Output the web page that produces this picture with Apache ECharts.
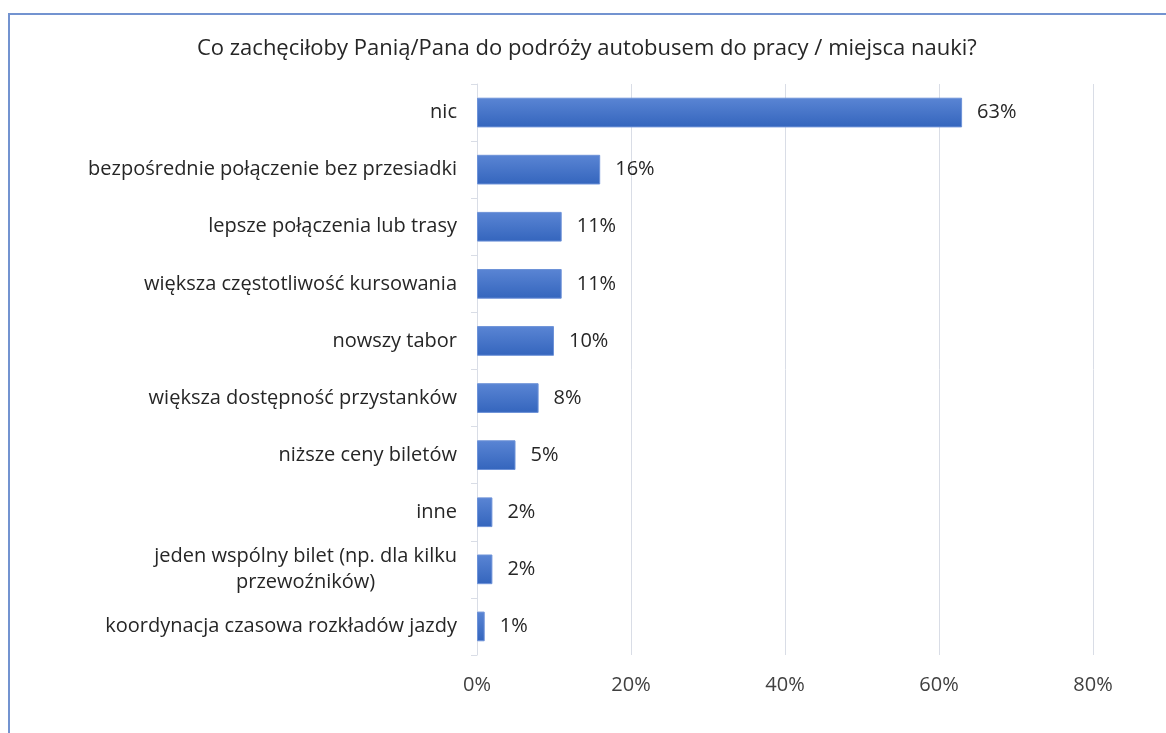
<!DOCTYPE html>
<html>
<head>
<meta charset="utf-8">
<script src="https://cdn.jsdelivr.net/npm/echarts@6/dist/echarts.min.js"></script>
<style>
html,body{margin:0;padding:0;background:#fff;overflow:hidden;}
#frame{position:absolute;left:8px;top:13px;width:1300px;height:900px;border:2px solid #7393d0;box-sizing:border-box;}
#chart{position:absolute;left:0;top:0;width:1166px;height:733px;}
</style>
</head>
<body>
<div id="frame"></div>
<div id="chart"></div>
<script>
var title = 'Co zachęciłoby Panią/Pana do podróży autobusem do pracy / miejsca nauki?';
var categories = [
  'nic',
  'bezpośrednie połączenie bez przesiadki',
  'lepsze połączenia lub trasy',
  'większa częstotliwość kursowania',
  'nowszy tabor',
  'większa dostępność przystanków',
  'niższe ceny biletów',
  'inne',
  'jeden wspólny bilet (np. dla kilku\nprzewoźników)',
  'koordynacja czasowa rozkładów jazdy'
];
var values = [63, 16, 11, 11, 10, 8, 5, 2, 2, 1];
var xTicks = [0, 20, 40, 60, 80];

var chart = echarts.init(document.getElementById('chart'));
var font = '"Open Sans", "Noto Sans", sans-serif';
chart.setOption({
  backgroundColor: 'transparent',
  animation: false,
  title: {
    text: title,
    left: 192,
    top: 33,
    textStyle: {fontFamily: font, fontSize: 22, fontWeight: 'normal', color: '#262626'}
  },
  grid: {left: 477, right: 73, top: 84, bottom: 78, containLabel: false},
  xAxis: {
    type: 'value',
    min: xTicks[0],
    max: xTicks[xTicks.length - 1],
    interval: 20,
    axisLine: {show: false},
    axisTick: {show: false},
    splitLine: {show: true, lineStyle: {color: '#d9dde6', width: 1}},
    axisLabel: {
      formatter: function (v) { return v + '%'; },
      margin: 20,
      fontFamily: font, fontSize: 20, color: '#404040'
    }
  },
  yAxis: {
    type: 'category',
    inverse: true,
    data: categories,
    axisLine: {show: true, lineStyle: {color: '#d9dde6', width: 1}},
    axisTick: {show: true, length: 6, lineStyle: {color: '#d9dde6'}},
    axisLabel: {
      margin: 20,
      fontFamily: font, fontSize: 20, color: '#262626',
      formatter: function (v) {
        return v.split('\n').map(function (s) { return '{c|' + s + '}'; }).join('\n');
      },
      rich: {c: {align: 'center', fontFamily: font, fontSize: 20, color: '#262626', lineHeight: 26}}
    }
  },
  series: [{
    type: 'bar',
    data: values,
    barCategoryGap: '48%',
    itemStyle: {
      color: new echarts.graphic.LinearGradient(0, 0, 0, 1, [
        {offset: 0, color: '#5a85d4'},
        {offset: 1, color: '#3465bd'}
      ]),
      borderColor: '#6d92d8',
      borderWidth: 1
    },
    label: {
      show: true,
      position: 'right',
      distance: 15,
      formatter: '{c}%',
      fontFamily: font, fontSize: 20, color: '#262626'
    }
  }]
});
</script>
</body>
</html>
